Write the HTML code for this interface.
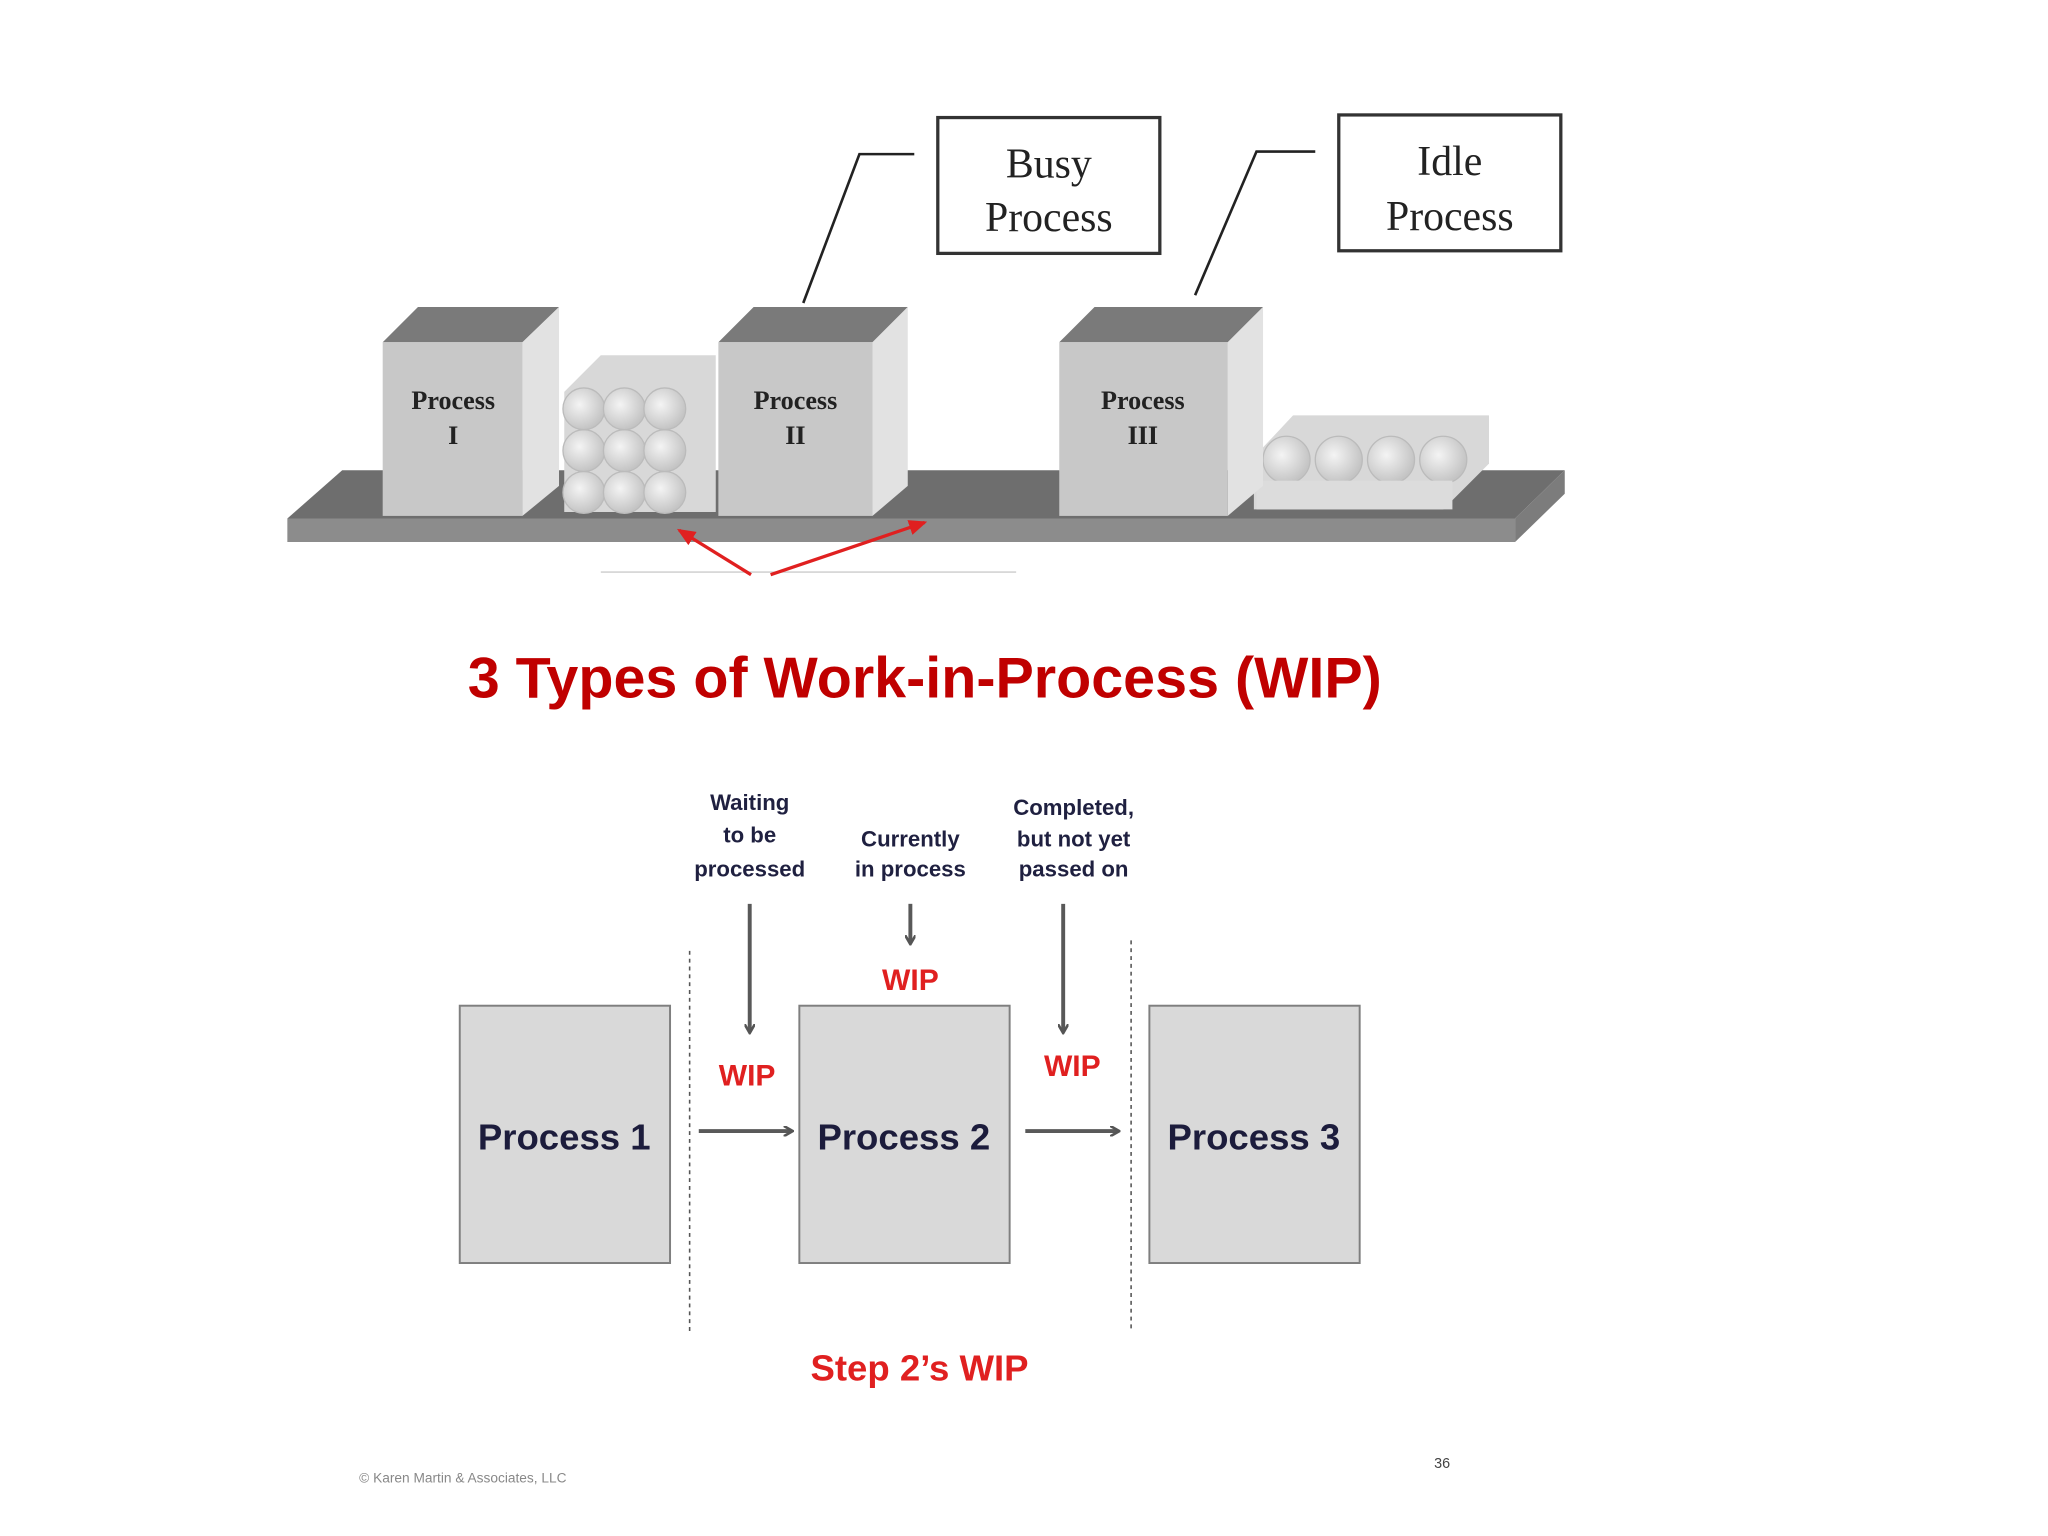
<!DOCTYPE html>
<html><head><meta charset="utf-8"><style>
html,body{margin:0;padding:0;background:#fff;}
svg{display:block;}
</style></head><body>
<svg width="2048" height="1536" viewBox="0 0 1568 1176" xmlns="http://www.w3.org/2000/svg">
<defs>
<marker id="ag" markerWidth="8" markerHeight="8" refX="6" refY="4" orient="auto" markerUnits="userSpaceOnUse"><path d="M0,0 L7,4 L0,8" fill="none" stroke="#555" stroke-width="2"/></marker>
<marker id="ar" markerWidth="14" markerHeight="12" refX="12" refY="6" orient="auto" markerUnits="userSpaceOnUse"><path d="M0,0 L14,6 L0,12 z" fill="#e02020"/></marker>
<radialGradient id="cyl" cx="0.4" cy="0.4" r="0.6"><stop offset="0" stop-color="#f4f4f4"/><stop offset="1" stop-color="#c4c4c4"/></radialGradient>
</defs>
<rect width="1568" height="1176" fill="#fff"/>
<!-- conveyor -->
<polygon points="262,360 1198,360 1160,397 220,397" fill="#6e6e6e"/>
<polygon points="220,397 1160,397 1160,415 220,415" fill="#8c8c8c"/>
<polygon points="1160,397 1198,360 1198,378 1160,415" fill="#7c7c7c"/>
<!-- left cylinders -->
<g fill="url(#cyl)" stroke="#bbb" stroke-width="1">
<polygon points="432,300 460,272 548,272 548,392 432,392" fill="#d8d8d8" stroke="none"/>
<circle cx="447" cy="377" r="16"/><circle cx="478" cy="377" r="16"/><circle cx="509" cy="377" r="16"/>
<circle cx="447" cy="345" r="16"/><circle cx="478" cy="345" r="16"/><circle cx="509" cy="345" r="16"/>
<circle cx="447" cy="313" r="16"/><circle cx="478" cy="313" r="16"/><circle cx="509" cy="313" r="16"/>
</g>
<!-- right cylinders -->
<g fill="url(#cyl)" stroke="#bbb" stroke-width="1">
<polygon points="960,390 960,350 990,318 1140,318 1140,355 1105,390" fill="#d8d8d8" stroke="none"/>
<circle cx="985" cy="352" r="18"/><circle cx="1025" cy="352" r="18"/><circle cx="1065" cy="352" r="18"/><circle cx="1105" cy="352" r="18"/>
<rect x="962" y="368" width="150" height="22" fill="#dcdcdc" stroke="none"/>
</g>
<!-- boxes -->
<g>
<polygon points="293,262 320,235 428,235 400,262" fill="#7a7a7a"/>
<polygon points="400,262 428,235 428,372 400,395" fill="#e2e2e2"/>
<rect x="293" y="262" width="107" height="133" fill="#c8c8c8"/>
<polygon points="550,262 577,235 695,235 668,262" fill="#7a7a7a"/>
<polygon points="668,262 695,235 695,372 668,395" fill="#e2e2e2"/>
<rect x="550" y="262" width="118" height="133" fill="#c8c8c8"/>
<polygon points="811,262 838,235 967,235 940,262" fill="#7a7a7a"/>
<polygon points="940,262 967,235 967,372 940,395" fill="#e2e2e2"/>
<rect x="811" y="262" width="129" height="133" fill="#c8c8c8"/>
</g>
<g font-family="Liberation Serif, serif" font-weight="bold" font-size="20" fill="#222" text-anchor="middle">
<text x="347" y="313">Process</text><text x="347" y="340">I</text>
<text x="609" y="313">Process</text><text x="609" y="340">II</text>
<text x="875" y="313">Process</text><text x="875" y="340">III</text>
</g>
<!-- callouts -->
<g fill="#fff" stroke="#333" stroke-width="2.5">
<rect x="718" y="90" width="170" height="104"/>
<rect x="1025" y="88" width="170" height="104"/>
</g>
<g fill="none" stroke="#222" stroke-width="2">
<polyline points="615,232 658,118 700,118"/>
<polyline points="915,226 962,116 1007,116"/>
</g>
<g font-family="Liberation Serif, serif" font-size="32" fill="#222" text-anchor="middle">
<text x="803" y="136">Busy</text><text x="803" y="177">Process</text>
<text x="1110" y="134">Idle</text><text x="1110" y="176">Process</text>
</g>
<!-- red arrows -->
<line x1="460" y1="438" x2="778" y2="438" stroke="#ccc" stroke-width="1"/>
<line x1="575" y1="440" x2="520" y2="406" stroke="#e02020" stroke-width="2.5" marker-end="url(#ar)"/>
<line x1="590" y1="440" x2="708" y2="400" stroke="#e02020" stroke-width="2.5" marker-end="url(#ar)"/>
<!-- title -->
<text x="708" y="534" font-family="Liberation Sans, sans-serif" font-weight="bold" font-size="44" fill="#c00000" text-anchor="middle">3 Types of Work-in-Process (WIP)</text>
<!-- bottom diagram -->
<g fill="#d9d9d9" stroke="#7f7f7f" stroke-width="1.5">
<rect x="352" y="770" width="161" height="197"/>
<rect x="612" y="770" width="161" height="197"/>
<rect x="880" y="770" width="161" height="197"/>
</g>
<g font-family="Liberation Sans, sans-serif" font-weight="bold" font-size="28" fill="#1c1c3c" text-anchor="middle">
<text x="432" y="880">Process 1</text>
<text x="692" y="880">Process 2</text>
<text x="960" y="880">Process 3</text>
</g>
<g stroke="#555" stroke-width="1.2" stroke-dasharray="3,3">
<line x1="528" y1="728" x2="528" y2="1022"/>
<line x1="866" y1="720" x2="866" y2="1018"/>
</g>
<g stroke="#595959" stroke-width="3" fill="none" marker-end="url(#ag)">
<line x1="574" y1="692" x2="574" y2="790"/>
<line x1="697" y1="692" x2="697" y2="722"/>
<line x1="814" y1="692" x2="814" y2="790"/>
<line x1="535" y1="866" x2="606" y2="866"/>
<line x1="785" y1="866" x2="856" y2="866"/>
</g>
<g font-family="Liberation Sans, sans-serif" font-weight="bold" font-size="23" fill="#e02020" text-anchor="middle">
<text x="572" y="831">WIP</text>
<text x="697" y="758">WIP</text>
<text x="821" y="824">WIP</text>
</g>
<g font-family="Liberation Sans, sans-serif" font-weight="bold" font-size="17" fill="#1f2040" text-anchor="middle">
<text x="574" y="620">Waiting</text><text x="574" y="645">to be</text><text x="574" y="671">processed</text>
<text x="697" y="648">Currently</text><text x="697" y="671">in process</text>
<text x="822" y="624">Completed,</text><text x="822" y="648">but not yet</text><text x="822" y="671">passed on</text>
</g>
<text x="704" y="1057" font-family="Liberation Sans, sans-serif" font-weight="bold" font-size="28" fill="#e02020" text-anchor="middle">Step 2’s WIP</text>
<text x="275" y="1135" font-family="Liberation Sans, sans-serif" font-size="10.5" fill="#888">© Karen Martin &amp; Associates, LLC</text>
<text x="1098" y="1124" font-family="Liberation Sans, sans-serif" font-size="11" fill="#444">36</text>
</svg>
</body></html>
